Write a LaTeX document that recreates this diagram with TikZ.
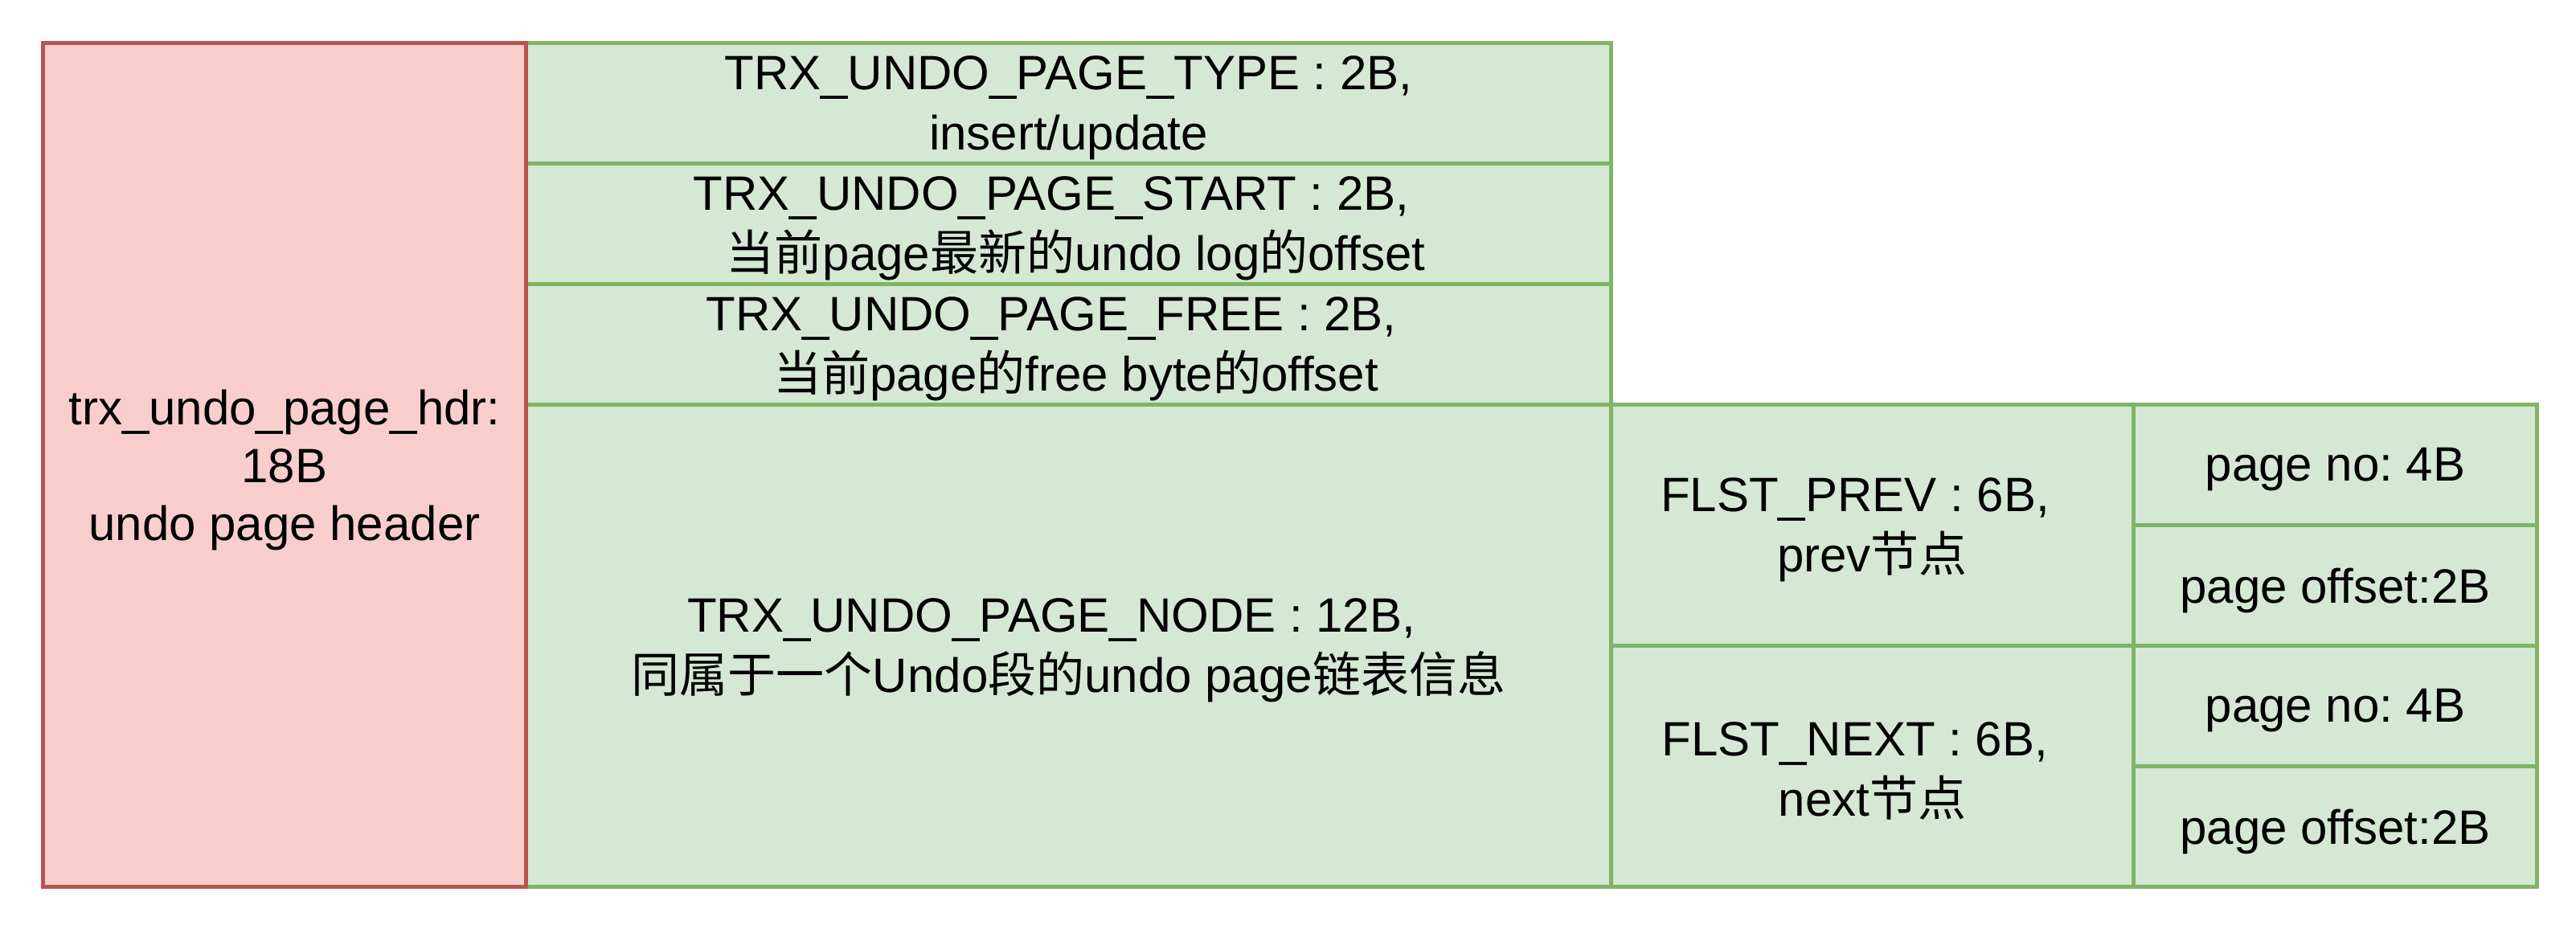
\documentclass[tikz,border=0pt]{standalone}
\usepackage{fontspec}
\setmainfont{Liberation Sans}
\newfontfamily\cjk{Noto Sans CJK SC}
\newcommand\zh[1]{{\cjk #1}}
\frenchspacing
\definecolor{redfill}{HTML}{F8CECC}
\definecolor{redline}{HTML}{B85450}
\definecolor{greenfill}{HTML}{D5E8D4}
\definecolor{greenline}{HTML}{82B366}
\begin{document}
\begin{tikzpicture}[x=1pt,y=-1pt,
  box/.style={line width=1pt, inner sep=0pt, anchor=north west},
  cell/.style={box, draw=greenline, fill=greenfill},
  hdr/.style={box, draw=redline, fill=redfill},
  txt/.style={inner sep=0pt, align=center, yshift=-1.2pt, font=\fontsize{12}{15}\selectfont},
  hdrtxt/.style={txt, font=\fontsize{12}{14.4}\selectfont}]
\useasboundingbox (0,0) rectangle (641,231);
% middle column
\node[cell, minimum width=270pt, minimum height=30pt] (type) at (130.4,10.2) {};
\node[cell, minimum width=270pt, minimum height=30pt] (start) at (130.4,40.2) {};
\node[cell, minimum width=270pt, minimum height=30pt] (free) at (130.4,70.2) {};
\node[cell, minimum width=270pt, minimum height=120pt] (pnode) at (130.4,100.2) {};
% FLST
\node[cell, minimum width=130pt, minimum height=60pt] (prev) at (400.4,100.2) {};
\node[cell, minimum width=130pt, minimum height=60pt] (next) at (400.4,160.2) {};
% sub fields
\node[cell, minimum width=100.4pt, minimum height=30pt] (pno1) at (530.4,100.2) {};
\node[cell, minimum width=100.4pt, minimum height=30pt] (poff1) at (530.4,130.2) {};
\node[cell, minimum width=100.4pt, minimum height=30pt] (pno2) at (530.4,160.2) {};
\node[cell, minimum width=100.4pt, minimum height=30pt] (poff2) at (530.4,190.2) {};
% header box
\node[hdr, minimum width=120.2pt, minimum height=210pt] (header) at (10.2,10.2) {};
% texts
\node[txt] (typeT) at (type.center) {TRX\_UNDO\_PAGE\_TYPE : 2B,\\insert/update};
\node[txt] (startT) at (start.center)
  {TRX\_UNDO\_PAGE\_START : 2B,\hspace*{8.6pt}\\\hspace*{3.6pt}\zh{当前}page\zh{最新的}undo log\zh{的}offset};
\node[txt] (freeT) at (free.center)
  {TRX\_UNDO\_PAGE\_FREE : 2B,\hspace*{8.6pt}\\\hspace*{3.6pt}\zh{当前}page\zh{的}free byte\zh{的}offset};
\node[txt] (pnodeT) at (pnode.center)
  {TRX\_UNDO\_PAGE\_NODE : 12B,\hspace*{8.6pt}\\\zh{同属于一个}Undo\zh{段的}undo page\zh{链表信息}};
\node[txt] (prevT) at (prev.center) {FLST\_PREV : 6B,\hspace*{8.6pt}\\prev\zh{节点}};
\node[txt] (nextT) at (next.center) {FLST\_NEXT : 6B,\hspace*{8.6pt}\\next\zh{节点}};
\node[txt] (pno1T) at (pno1.center) {page no: 4B};
\node[txt] (poff1T) at (poff1.center) {page offset:2B};
\node[txt] (pno2T) at (pno2.center) {page no: 4B};
\node[txt] (poff2T) at (poff2.center) {page offset:2B};
\node[hdrtxt] (headerT) at (header.center) {trx\_undo\_page\_hdr:\\18B\\undo page header};
\end{tikzpicture}
\end{document}
